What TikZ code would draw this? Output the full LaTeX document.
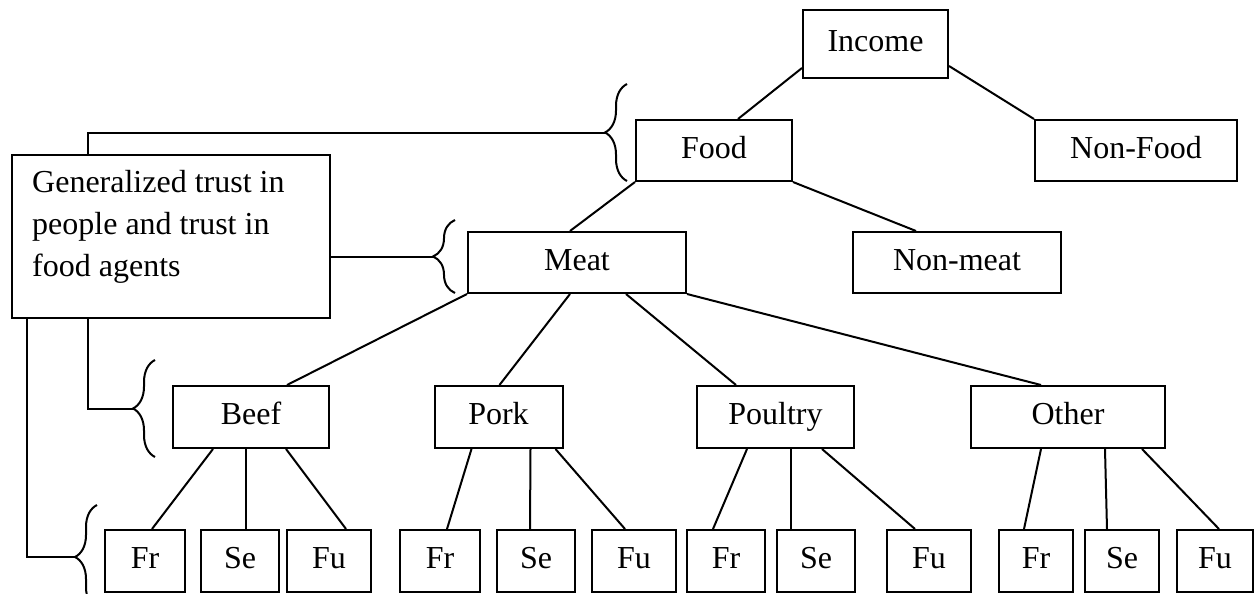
\documentclass[tikz,border=0pt]{standalone}
\usepackage{fontspec}
\setmainfont{Liberation Serif}
\usetikzlibrary{decorations.pathreplacing}
\begin{document}
\begin{tikzpicture}[x=1pt,y=-1pt,
  box/.style={draw, line width=2pt, inner sep=0pt, font=\fontsize{32}{38}\selectfont, text height=22pt, text depth=7pt},
  link/.style={line width=2pt},
  brc/.style={line width=2pt, decorate, decoration={brace, amplitude=22pt}}]
\clip (0,0) rectangle (1254,594);
\fill[white] (0,0) rectangle (1254,594);
% level 0-2
\node[box, minimum width=145pt, minimum height=68pt] (income) at (875.5,44) {Income};
\node[box, minimum width=156pt, minimum height=61pt] (food) at (714,150.5) {Food};
\node[box, minimum width=202pt, minimum height=61pt] (nonfood) at (1136,150.5) {Non-Food};
\node[box, minimum width=218pt, minimum height=61pt] (meat) at (577,262.5) {Meat};
\node[box, minimum width=208pt, minimum height=61pt] (nonmeat) at (957,262.5) {Non-meat};
% level 3
\node[box, minimum width=156pt, minimum height=62pt] (beef) at (251,417) {Beef};
\node[box, minimum width=128pt, minimum height=62pt] (pork) at (498.5,417) {Pork};
\node[box, minimum width=157pt, minimum height=62pt] (poultry) at (775.5,417) {Poultry};
\node[box, minimum width=194pt, minimum height=62pt] (other) at (1068,417) {Other};
% leaves
\node[box, minimum width=80pt, minimum height=62pt] (bfr) at (145,561) {Fr};
\node[box, minimum width=78pt, minimum height=62pt] (bse) at (240,561) {Se};
\node[box, minimum width=84pt, minimum height=62pt] (bfu) at (329,561) {Fu};
\node[box, minimum width=80pt, minimum height=62pt] (pfr) at (440,561) {Fr};
\node[box, minimum width=78pt, minimum height=62pt] (pse) at (536,561) {Se};
\node[box, minimum width=84pt, minimum height=62pt] (pfu) at (634,561) {Fu};
\node[box, minimum width=78pt, minimum height=62pt] (qfr) at (726,561) {Fr};
\node[box, minimum width=78pt, minimum height=62pt] (qse) at (816,561) {Se};
\node[box, minimum width=84pt, minimum height=62pt] (qfu) at (929,561) {Fu};
\node[box, minimum width=74pt, minimum height=62pt] (ofr) at (1036,561) {Fr};
\node[box, minimum width=74pt, minimum height=62pt] (ose) at (1122,561) {Se};
\node[box, minimum width=76pt, minimum height=62pt] (ofu) at (1215,561) {Fu};
% trust box
\node[draw, line width=2pt, inner sep=0pt, minimum width=318pt, minimum height=163pt, anchor=north west] (gen) at (11,154) {};
\node[inner sep=0pt, anchor=north west, align=left, font=\fontsize{32}{42}\selectfont] (gentext) at (32,170) {Generalized trust in\\people and trust in\\food agents};
% connectors
\draw[link] ([yshift=11pt]income.south west) -- ([xshift=103pt]food.north west);
\draw[link] ([yshift=13pt]income.south east) -- (nonfood.north west);
\draw[link] (food.south west) -- ([xshift=103pt]meat.north west);
\draw[link] (food.south east) -- ([xshift=64pt]nonmeat.north west);
\draw[link] (meat.south west) -- ([xshift=36pt]beef.north);
\draw[link] ([xshift=103pt]meat.south west) -- ([xshift=66pt]pork.north west);
\draw[link] ([xshift=159pt]meat.south west) -- ([xshift=40pt]poultry.north west);
\draw[link] (meat.south east) -- ([xshift=71pt]other.north west);
\draw[link] ([xshift=41pt]beef.south west) -- ([xshift=48pt]bfr.north west);
\draw[link] ([xshift=74pt]beef.south west) -- ([xshift=46pt]bse.north west);
\draw[link] ([xshift=114pt]beef.south west) -- ([xshift=60pt]bfu.north west);
\draw[link] ([xshift=38pt]pork.south west) -- ([xshift=48pt]pfr.north west);
\draw[link] ([xshift=97pt]pork.south west) -- ([xshift=34pt]pse.north west);
\draw[link] ([xshift=122pt]pork.south west) -- ([xshift=34pt]pfu.north west);
\draw[link] ([xshift=51pt]poultry.south west) -- ([xshift=27pt]qfr.north west);
\draw[link] ([xshift=95pt]poultry.south west) -- ([xshift=15pt]qse.north west);
\draw[link] ([xshift=126pt]poultry.south west) -- ([xshift=29pt]qfu.north west);
\draw[link] ([xshift=71pt]other.south west) -- ([xshift=26pt]ofr.north west);
\draw[link] ([xshift=135pt]other.south west) -- ([xshift=23pt]ose.north west);
\draw[link] ([xshift=172pt]other.south west) -- ([xshift=43pt]ofu.north west);
% braces
\coordinate (bfoodtip) at (605,132.5);
\coordinate (bmeattip) at (433,256.5);
\coordinate (bbeeftip) at (133,408.5);
\coordinate (bleaftip) at (75,557);
\draw[brc] (627,181) -- (627,84);
\draw[brc] (455,293) -- (455,220);
\draw[brc] (155,457) -- (155,360);
\draw[brc] (97,609) -- (97,505);
\draw[link] ([xshift=77pt]gen.north west) |- (bfoodtip);
\draw[link] (bmeattip -| gen.east) -- (bmeattip);
\draw[link] ([xshift=77pt]gen.south west) |- (bbeeftip);
\draw[link] ([xshift=16pt]gen.south west) |- (bleaftip);
\end{tikzpicture}
\end{document}
